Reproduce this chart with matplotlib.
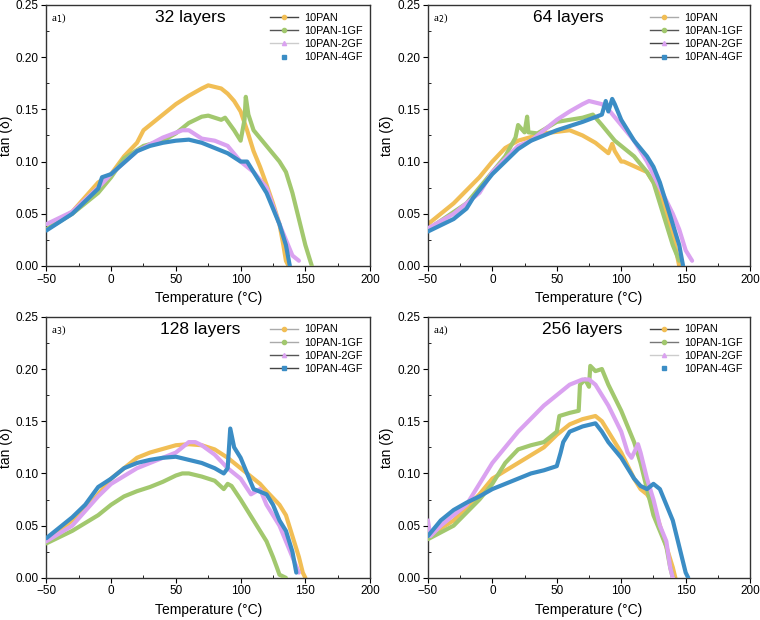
import matplotlib
matplotlib.use('Agg')
import matplotlib.pyplot as plt
from matplotlib.lines import Line2D
from matplotlib.ticker import MultipleLocator

plt.rcParams['font.family'] = ['Liberation Sans', 'DejaVu Sans']

series_names = ['10PAN', '10PAN-1GF', '10PAN-2GF', '10PAN-4GF']
colors = ['#F1BE55', '#A2C86E', '#DAA2F0', '#3B8DC5']
markers = ['o', 'o', '^', 's']
titles = ['32 layers', '64 layers', '128 layers', '256 layers']
tags = ['a$_1$)', 'a$_2$)', 'a$_3$)', 'a$_4$)']
# connecting-line colour of each legend entry (None = marker only)
legend_line = [
    ['#444444', '#555555', '#cccccc', None],
    ['#aaaaaa', '#555555', '#444444', '#555555'],
    ['#aaaaaa', '#aaaaaa', '#555555', '#444444'],
    ['#444444', '#777777', '#cccccc', None],
]

# 32 layers
t32_pan = [-50, -30, -10, 0, 10, 20, 25, 40, 50, 60, 70, 75, 85, 90, 95, 100, 105, 110, 115, 120, 125, 130, 133, 135, 137]
d32_pan = [0.035, 0.052, 0.080, 0.088, 0.105, 0.118, 0.130, 0.145, 0.155, 0.163, 0.170, 0.173, 0.170, 0.165, 0.158, 0.148, 0.130, 0.110, 0.095, 0.078, 0.060, 0.040, 0.020, 0.005, 0.0]
t32_1gf = [-50, -30, -10, 0, 10, 25, 40, 50, 60, 70, 75, 85, 88, 95, 100, 103, 104, 106, 110, 120, 130, 135, 140, 145, 150, 155]
d32_1gf = [0.035, 0.050, 0.070, 0.085, 0.103, 0.115, 0.120, 0.127, 0.137, 0.143, 0.144, 0.140, 0.142, 0.130, 0.120, 0.140, 0.162, 0.145, 0.130, 0.115, 0.100, 0.090, 0.070, 0.045, 0.020, 0.0]
t32_2gf = [-50, -30, -10, 0, 20, 40, 55, 60, 70, 80, 90, 100, 110, 120, 130, 135, 140, 145]
d32_2gf = [0.040, 0.052, 0.075, 0.088, 0.110, 0.123, 0.130, 0.130, 0.122, 0.120, 0.115, 0.100, 0.090, 0.075, 0.040, 0.025, 0.010, 0.005]
t32_4gf = [-50, -30, -10, -7, 0, 20, 30, 40, 50, 60, 70, 80, 90, 100, 105, 110, 120, 125, 130, 135, 138]
d32_4gf = [0.034, 0.050, 0.074, 0.085, 0.088, 0.110, 0.115, 0.118, 0.120, 0.121, 0.118, 0.113, 0.108, 0.100, 0.100, 0.090, 0.070, 0.055, 0.040, 0.020, 0.0]

# 64 layers
t64_pan = [-50, -30, -10, 0, 10, 20, 40, 60, 70, 80, 90, 93, 95, 100, 102, 120, 130, 140, 145]
d64_pan = [0.040, 0.060, 0.085, 0.100, 0.113, 0.120, 0.127, 0.130, 0.125, 0.118, 0.108, 0.117, 0.110, 0.100, 0.100, 0.090, 0.070, 0.030, 0.0]
t64_1gf = [-50, -20, -10, 0, 10, 18, 20, 25, 27, 28, 35, 50, 60, 70, 78, 85, 95, 100, 105, 110, 120, 125, 130, 135, 140, 145]
d64_1gf = [0.035, 0.060, 0.075, 0.090, 0.105, 0.123, 0.135, 0.128, 0.143, 0.128, 0.127, 0.138, 0.140, 0.142, 0.145, 0.135, 0.120, 0.115, 0.110, 0.105, 0.090, 0.080, 0.060, 0.040, 0.020, 0.005]
t64_2gf = [-50, -30, -10, 0, 20, 30, 50, 60, 70, 75, 85, 90, 100, 110, 120, 130, 140, 145, 150, 155]
d64_2gf = [0.036, 0.050, 0.070, 0.090, 0.115, 0.120, 0.140, 0.148, 0.155, 0.158, 0.155, 0.150, 0.135, 0.120, 0.100, 0.075, 0.050, 0.035, 0.015, 0.005]
t64_4gf = [-50, -30, -20, -15, 0, 10, 20, 30, 50, 70, 85, 88, 90, 93, 95, 100, 110, 120, 125, 130, 135, 140, 145, 148]
d64_4gf = [0.033, 0.045, 0.055, 0.065, 0.088, 0.100, 0.112, 0.120, 0.130, 0.138, 0.145, 0.158, 0.148, 0.160, 0.155, 0.140, 0.120, 0.105, 0.095, 0.080, 0.060, 0.040, 0.020, 0.0]

# 128 layers
t128_pan = [-50, -20, -10, 0, 20, 30, 50, 60, 70, 80, 90, 95, 100, 110, 115, 120, 130, 135, 140, 145, 148, 150]
d128_pan = [0.035, 0.065, 0.080, 0.095, 0.115, 0.120, 0.127, 0.128, 0.127, 0.123, 0.115, 0.110, 0.105, 0.095, 0.090, 0.083, 0.070, 0.060, 0.040, 0.020, 0.005, 0.0]
t128_1gf = [-50, -30, -10, 0, 10, 20, 30, 40, 50, 55, 60, 70, 80, 87, 90, 93, 100, 110, 115, 120, 125, 128, 130, 135]
d128_1gf = [0.033, 0.045, 0.060, 0.070, 0.078, 0.083, 0.087, 0.092, 0.098, 0.100, 0.100, 0.097, 0.093, 0.085, 0.090, 0.088, 0.075, 0.055, 0.045, 0.035, 0.020, 0.010, 0.003, 0.0]
t128_2gf = [-50, -30, -10, 0, 20, 40, 50, 60, 65, 70, 80, 90, 100, 108, 115, 120, 130, 140, 145]
d128_2gf = [0.035, 0.050, 0.078, 0.090, 0.105, 0.115, 0.120, 0.130, 0.130, 0.127, 0.118, 0.105, 0.095, 0.080, 0.085, 0.070, 0.050, 0.020, 0.005]
t128_4gf = [-50, -30, -20, -10, 0, 10, 20, 30, 40, 50, 60, 70, 80, 87, 90, 92, 95, 100, 105, 110, 120, 125, 130, 135, 140, 143]
d128_4gf = [0.038, 0.058, 0.070, 0.087, 0.095, 0.105, 0.110, 0.113, 0.115, 0.116, 0.113, 0.110, 0.105, 0.100, 0.105, 0.143, 0.125, 0.115, 0.100, 0.085, 0.080, 0.070, 0.055, 0.045, 0.025, 0.005]

# 256 layers
t256_pan = [-50, -30, -10, 0, 20, 40, 50, 60, 70, 80, 85, 90, 100, 110, 115, 120, 125, 130, 135, 140, 142]
d256_pan = [0.040, 0.055, 0.080, 0.095, 0.110, 0.125, 0.137, 0.147, 0.152, 0.155, 0.150, 0.140, 0.120, 0.095, 0.085, 0.080, 0.070, 0.050, 0.030, 0.010, 0.0]
t256_1gf = [-50, -30, -10, 0, 10, 20, 30, 40, 50, 52, 60, 67, 68, 72, 75, 76, 80, 85, 90, 100, 110, 115, 120, 125, 130, 135, 138, 140]
d256_1gf = [0.037, 0.050, 0.075, 0.090, 0.110, 0.123, 0.127, 0.130, 0.140, 0.155, 0.158, 0.160, 0.185, 0.190, 0.183, 0.203, 0.198, 0.200, 0.185, 0.160, 0.130, 0.110, 0.085, 0.060, 0.045, 0.030, 0.010, 0.0]
t256_2gf = [-50, -48, -40, -20, -10, 0, 20, 40, 60, 70, 75, 80, 90, 100, 105, 108, 110, 113, 115, 120, 125, 130, 135, 138, 140]
d256_2gf = [0.055, 0.040, 0.050, 0.070, 0.090, 0.110, 0.140, 0.165, 0.185, 0.190, 0.190, 0.185, 0.165, 0.140, 0.120, 0.115, 0.120, 0.128, 0.120, 0.095, 0.075, 0.050, 0.035, 0.010, 0.0]
t256_4gf = [-50, -40, -30, -20, -10, 0, 20, 30, 40, 50, 53, 55, 60, 70, 80, 85, 90, 100, 110, 115, 120, 125, 130, 135, 140, 145, 150, 152]
d256_4gf = [0.040, 0.055, 0.065, 0.072, 0.078, 0.085, 0.095, 0.100, 0.103, 0.107, 0.120, 0.130, 0.140, 0.145, 0.148, 0.140, 0.130, 0.115, 0.095, 0.088, 0.085, 0.090, 0.085, 0.070, 0.055, 0.030, 0.005, 0.0]

panels = [
    [(t32_pan, d32_pan), (t32_1gf, d32_1gf), (t32_2gf, d32_2gf), (t32_4gf, d32_4gf)],
    [(t64_pan, d64_pan), (t64_1gf, d64_1gf), (t64_2gf, d64_2gf), (t64_4gf, d64_4gf)],
    [(t128_pan, d128_pan), (t128_1gf, d128_1gf), (t128_2gf, d128_2gf), (t128_4gf, d128_4gf)],
    [(t256_pan, d256_pan), (t256_1gf, d256_1gf), (t256_2gf, d256_2gf), (t256_4gf, d256_4gf)],
]

fig = plt.figure(figsize=(7.6, 6.2), dpi=100)
boxes = [
    [0.061, 0.571, 0.426, 0.421],
    [0.563, 0.571, 0.424, 0.421],
    [0.061, 0.068, 0.426, 0.421],
    [0.563, 0.068, 0.424, 0.421],
]
title_x = [0.445, 0.435, 0.475, 0.478]

for i in range(4):
    ax = fig.add_axes(boxes[i])
    for j in range(4):
        t, d = panels[i][j]
        ax.plot(t, d, color=colors[j], lw=3.0, solid_joinstyle='round',
                solid_capstyle='round', zorder=2 + j)
    ax.set_xlim(-50, 200)
    ax.set_ylim(0, 0.25)
    ax.xaxis.set_major_locator(MultipleLocator(50))
    ax.xaxis.set_minor_locator(MultipleLocator(25))
    ax.yaxis.set_major_locator(MultipleLocator(0.05))
    ax.yaxis.set_minor_locator(MultipleLocator(0.025))
    ax.yaxis.set_major_formatter(plt.FormatStrFormatter('%.2f'))
    ax.tick_params(which='major', direction='out', length=3.5, labelsize=8.5, pad=2)
    ax.tick_params(which='minor', direction='in', length=2.5)
    ax.tick_params(which='both', top=False, right=False)
    for s in ax.spines.values():
        s.set_linewidth(1.0)
        s.set_color('#333333')
    ax.set_xlabel('Temperature (°C)', fontsize=10, labelpad=4)
    ax.set_ylabel('tan (δ)', fontsize=10, labelpad=2)
    ax.text(title_x[i], 0.952, titles[i], transform=ax.transAxes, ha='center', va='center',
            fontsize=12.5)
    ax.text(0.015, 0.975, tags[i], transform=ax.transAxes, ha='left', va='top',
            fontsize=8, family='Liberation Serif')
    handles = []
    for j in range(4):
        lc = legend_line[i][j]
        handles.append(Line2D([], [], color=lc if lc else 'none', lw=1.0,
                              marker=markers[j], ms=3, mfc=colors[j], mec=colors[j]))
    ax.legend(handles, series_names, loc='upper right', frameon=False, fontsize=7.8,
              handlelength=2.6, labelspacing=0.3, borderaxespad=0.3, handletextpad=0.5)

plt.savefig('out.png', dpi=100)
